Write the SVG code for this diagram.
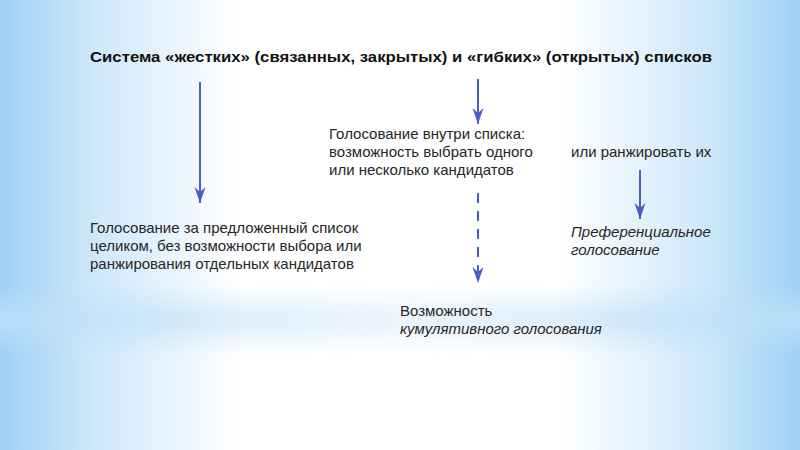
<svg xmlns="http://www.w3.org/2000/svg" width="800" height="450" viewBox="0 0 800 450">
<defs>
<linearGradient id="bgH" x1="0" y1="0" x2="1" y2="0">
<stop offset="0" stop-color="#9fd0f6"/>
<stop offset="0.12" stop-color="#cfe8fa"/>
<stop offset="0.3" stop-color="#ffffff"/>
<stop offset="0.7" stop-color="#ffffff"/>
<stop offset="0.88" stop-color="#cfe8fa"/>
<stop offset="1" stop-color="#9fd0f6"/>
</linearGradient>
<linearGradient id="band" x1="0" y1="0" x2="0" y2="1">
<stop offset="0" stop-color="#bfe0f8" stop-opacity="0"/>
<stop offset="0.45" stop-color="#bfe0f8" stop-opacity="0.8"/>
<stop offset="0.55" stop-color="#bfe0f8" stop-opacity="0.8"/>
<stop offset="1" stop-color="#bfe0f8" stop-opacity="0"/>
</linearGradient>
<linearGradient id="bandMask" x1="0" y1="0" x2="1" y2="0">
<stop offset="0" stop-color="#fff"/>
<stop offset="0.5" stop-color="#fff" stop-opacity="0.4"/>
<stop offset="1" stop-color="#fff"/>
</linearGradient>
<mask id="m"><rect width="800" height="450" fill="url(#bandMask)"/></mask>
<marker id="ah" viewBox="0 0 16 12" refX="16" refY="6" markerWidth="16" markerHeight="12" markerUnits="userSpaceOnUse" orient="auto">
<path d="M16,6 L0,0.5 L5,6 L0,11.5 Z" fill="#4a5cc6"/>
</marker>
<style>
.t{font-family:"Liberation Sans",Arial,sans-serif;font-size:15px;fill:#262626}
.i{font-style:italic}
.h{font-family:"Liberation Sans",Arial,sans-serif;font-size:15px;font-weight:bold;fill:#111}
.c{stroke:#4a5cc6;stroke-width:2;fill:none}
</style>
</defs>
<rect width="800" height="450" fill="url(#bgH)"/>
<rect x="0" y="285" width="800" height="70" fill="url(#band)" mask="url(#m)"/>
<g id="title"><text class="h" x="90" y="62" textLength="622" lengthAdjust="spacingAndGlyphs">Система «жестких» (связанных, закрытых) и «гибких» (открытых) списков</text></g>
<g id="connectors">
<line class="c" x1="200" y1="82" x2="200" y2="203" marker-end="url(#ah)"/>
<line class="c" x1="478" y1="79" x2="478" y2="124" marker-end="url(#ah)"/>
<line class="c" x1="478" y1="193" x2="478" y2="283" stroke-dasharray="10,8" marker-end="url(#ah)"/>
<line class="c" x1="640" y1="170" x2="640" y2="219" marker-end="url(#ah)"/>
</g>
<g id="inner"><text class="t" x="329" y="139"><tspan x="329">Голосование внутри списка:</tspan><tspan x="329" dy="18">возможность выбрать одного</tspan><tspan x="329" dy="18">или несколько кандидатов</tspan></text></g>
<g id="rank"><text class="t" x="571" y="157">или ранжировать их</text></g>
<g id="whole"><text class="t" x="90" y="233"><tspan x="90">Голосование за предложенный список</tspan><tspan x="90" dy="18">целиком, без возможности выбора или</tspan><tspan x="90" dy="18">ранжирования отдельных кандидатов</tspan></text></g>
<g id="pref"><text class="t i" x="571" y="237"><tspan x="571">Преференциальное</tspan><tspan x="571" dy="18">голосование</tspan></text></g>
<g id="cumul"><text class="t" x="400" y="316"><tspan x="400">Возможность</tspan><tspan class="i" x="400" dy="18">кумулятивного голосования</tspan></text></g>
</svg>
